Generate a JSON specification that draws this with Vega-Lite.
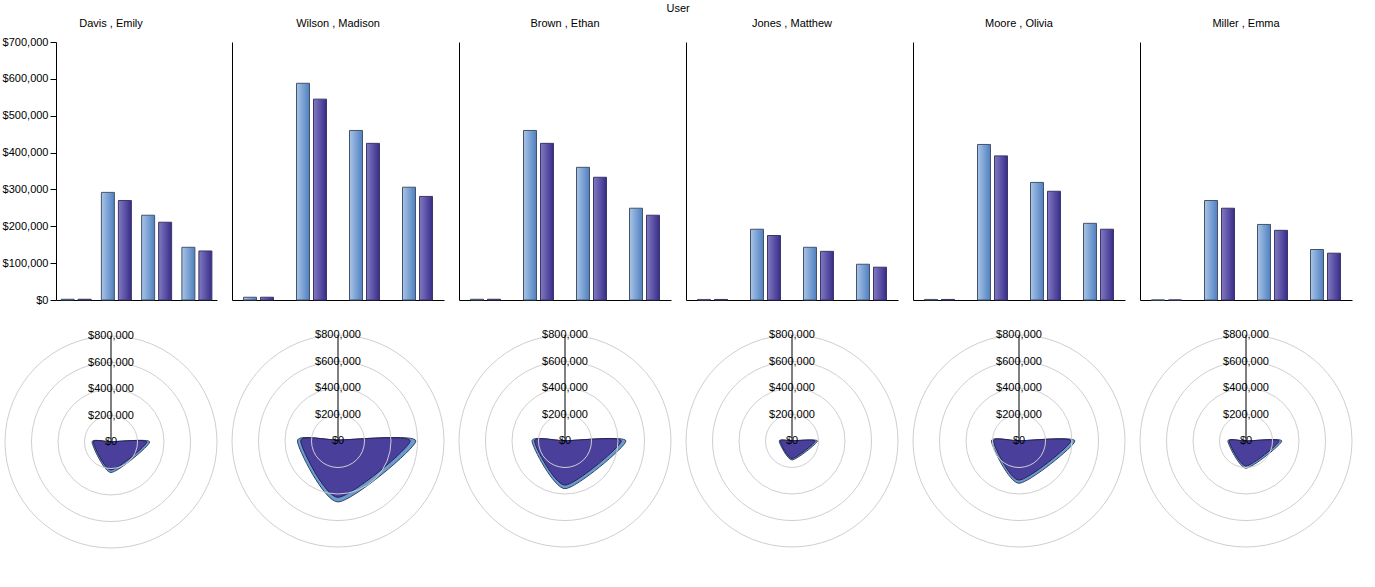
{
  "$schema": "https://vega.github.io/schema/vega-lite/v6.json",
  "background": "white",
  "padding": {"left": 2, "top": 3, "right": 0, "bottom": 0},
  "title": {"text": "User", "anchor": "middle", "offset": 4},
  "datasets": {
    "sales": [
      {"user": "Davis , Emily", "cat": "C1", "series": "S1", "value": 2000},
      {"user": "Davis , Emily", "cat": "C1", "series": "S2", "value": 2000},
      {"user": "Davis , Emily", "cat": "C2", "series": "S1", "value": 292000},
      {"user": "Davis , Emily", "cat": "C2", "series": "S2", "value": 270000},
      {"user": "Davis , Emily", "cat": "C3", "series": "S1", "value": 230000},
      {"user": "Davis , Emily", "cat": "C3", "series": "S2", "value": 211000},
      {"user": "Davis , Emily", "cat": "C4", "series": "S1", "value": 143000},
      {"user": "Davis , Emily", "cat": "C4", "series": "S2", "value": 133000},
      {"user": "Wilson , Madison", "cat": "C1", "series": "S1", "value": 7500},
      {"user": "Wilson , Madison", "cat": "C1", "series": "S2", "value": 7500},
      {"user": "Wilson , Madison", "cat": "C2", "series": "S1", "value": 588000},
      {"user": "Wilson , Madison", "cat": "C2", "series": "S2", "value": 545000},
      {"user": "Wilson , Madison", "cat": "C3", "series": "S1", "value": 460000},
      {"user": "Wilson , Madison", "cat": "C3", "series": "S2", "value": 425000},
      {"user": "Wilson , Madison", "cat": "C4", "series": "S1", "value": 306000},
      {"user": "Wilson , Madison", "cat": "C4", "series": "S2", "value": 281000},
      {"user": "Brown , Ethan", "cat": "C1", "series": "S1", "value": 2000},
      {"user": "Brown , Ethan", "cat": "C1", "series": "S2", "value": 2000},
      {"user": "Brown , Ethan", "cat": "C2", "series": "S1", "value": 460000},
      {"user": "Brown , Ethan", "cat": "C2", "series": "S2", "value": 425000},
      {"user": "Brown , Ethan", "cat": "C3", "series": "S1", "value": 360000},
      {"user": "Brown , Ethan", "cat": "C3", "series": "S2", "value": 333000},
      {"user": "Brown , Ethan", "cat": "C4", "series": "S1", "value": 249000},
      {"user": "Brown , Ethan", "cat": "C4", "series": "S2", "value": 230000},
      {"user": "Jones , Matthew", "cat": "C1", "series": "S1", "value": 1500},
      {"user": "Jones , Matthew", "cat": "C1", "series": "S2", "value": 1500},
      {"user": "Jones , Matthew", "cat": "C2", "series": "S1", "value": 192000},
      {"user": "Jones , Matthew", "cat": "C2", "series": "S2", "value": 175000},
      {"user": "Jones , Matthew", "cat": "C3", "series": "S1", "value": 143000},
      {"user": "Jones , Matthew", "cat": "C3", "series": "S2", "value": 132000},
      {"user": "Jones , Matthew", "cat": "C4", "series": "S1", "value": 97000},
      {"user": "Jones , Matthew", "cat": "C4", "series": "S2", "value": 89000},
      {"user": "Moore , Olivia", "cat": "C1", "series": "S1", "value": 1500},
      {"user": "Moore , Olivia", "cat": "C1", "series": "S2", "value": 1500},
      {"user": "Moore , Olivia", "cat": "C2", "series": "S1", "value": 422000},
      {"user": "Moore , Olivia", "cat": "C2", "series": "S2", "value": 391000},
      {"user": "Moore , Olivia", "cat": "C3", "series": "S1", "value": 319000},
      {"user": "Moore , Olivia", "cat": "C3", "series": "S2", "value": 295000},
      {"user": "Moore , Olivia", "cat": "C4", "series": "S1", "value": 208000},
      {"user": "Moore , Olivia", "cat": "C4", "series": "S2", "value": 192000},
      {"user": "Miller , Emma", "cat": "C1", "series": "S1", "value": 0},
      {"user": "Miller , Emma", "cat": "C1", "series": "S2", "value": 0},
      {"user": "Miller , Emma", "cat": "C2", "series": "S1", "value": 270000},
      {"user": "Miller , Emma", "cat": "C2", "series": "S2", "value": 249000},
      {"user": "Miller , Emma", "cat": "C3", "series": "S1", "value": 205000},
      {"user": "Miller , Emma", "cat": "C3", "series": "S2", "value": 189000},
      {"user": "Miller , Emma", "cat": "C4", "series": "S1", "value": 137000},
      {"user": "Miller , Emma", "cat": "C4", "series": "S2", "value": 127000}
    ],
    "rings": [
      {"ring": 0}, {"ring": 200000}, {"ring": 400000}, {"ring": 600000}, {"ring": 800000}
    ]
  },
  "spacing": 11,
  "hconcat": [
    {
      "spacing": 25,
      "vconcat": [
        {
          "width": 212, "height": 258,
          "title": {"text": "Davis , Emily", "offset": 7},
          "data": {"name": "sales"},
          "transform": [{"filter": "datum.user === 'Davis , Emily'"}],
          "encoding": {
            "x": {"field": "cat", "type": "nominal", "scale": {"domain": ["C1", "C2", "C3", "C4"], "range": [51, 212], "paddingInner": 0, "paddingOuter": 0}, "axis": {"title": null, "labels": false, "ticks": false}},
            "y": {"field": "value", "type": "quantitative", "scale": {"domain": [0, 700000], "nice": false}, "axis": {"title": null, "grid": false, "offset": -51, "format": "$,.0f", "values": [0, 100000, 200000, 300000, 400000, 500000, 600000, 700000], "tickSize": 6, "labelPadding": 2}}
          },
          "layer": [
            {"transform": [{"filter": "datum.series === 'S1'"}], "mark": {"type": "bar", "width": 13, "xOffset": -8.5, "stroke": "#45536a", "strokeWidth": 1, "fill": {"gradient": "linear", "x1": 0, "y1": 0, "x2": 1, "y2": 0, "stops": [{"offset": 0, "color": "#a9c4e7"}, {"offset": 1, "color": "#4f80c0"}]}}},
            {"transform": [{"filter": "datum.series === 'S2'"}], "mark": {"type": "bar", "width": 13, "xOffset": 8.5, "stroke": "#3b3768", "strokeWidth": 1, "fill": {"gradient": "linear", "x1": 0, "y1": 0, "x2": 1, "y2": 0, "stops": [{"offset": 0, "color": "#8279c2"}, {"offset": 1, "color": "#372d8a"}]}}}
          ]
        },
        {
          "width": 212, "height": 212,
          "layer": [
            {"data": {"name": "sales"}, "transform": [{"filter": "datum.user === 'Davis , Emily' && datum.series === 'S1'"}, {"calculate": "datum.cat === 'C2' ? datum.value : datum.cat === 'C4' ? -datum.value : 0", "as": "rx"}, {"calculate": "datum.cat === 'C1' ? datum.value : datum.cat === 'C3' ? -datum.value : 0", "as": "ry"}],
             "mark": {"type": "line", "interpolate": "cardinal-closed", "tension": 0.3, "fill": "#6b9bd1", "stroke": "#34465e", "strokeWidth": 1},
             "encoding": {"x": {"field": "rx", "type": "quantitative", "scale": {"domain": [-800000, 800000], "nice": false}, "axis": null}, "y": {"field": "ry", "type": "quantitative", "scale": {"domain": [-800000, 800000], "nice": false}, "axis": null}, "order": {"field": "cat", "type": "ordinal"}}},
            {"data": {"name": "sales"}, "transform": [{"filter": "datum.user === 'Davis , Emily' && datum.series === 'S2'"}, {"calculate": "datum.cat === 'C2' ? datum.value : datum.cat === 'C4' ? -datum.value : 0", "as": "rx"}, {"calculate": "datum.cat === 'C1' ? datum.value : datum.cat === 'C3' ? -datum.value : 0", "as": "ry"}],
             "mark": {"type": "line", "interpolate": "cardinal-closed", "tension": 0.3, "fill": "#4a3f9b", "stroke": "#262257", "strokeWidth": 1},
             "encoding": {"x": {"field": "rx", "type": "quantitative", "scale": {"domain": [-800000, 800000], "nice": false}, "axis": null}, "y": {"field": "ry", "type": "quantitative", "scale": {"domain": [-800000, 800000], "nice": false}, "axis": null}, "order": {"field": "cat", "type": "ordinal"}}},
            {"data": {"name": "rings"}, "transform": [{"filter": "datum.ring > 0"}], "mark": {"type": "point", "shape": "circle", "filled": false, "stroke": "#cfcfcf", "strokeWidth": 1, "opacity": 1},
             "encoding": {"x": {"datum": 0, "type": "quantitative", "scale": {"domain": [-800000, 800000], "nice": false}, "axis": null}, "y": {"datum": 0, "type": "quantitative", "scale": {"domain": [-800000, 800000], "nice": false}, "axis": null}, "size": {"field": "ring", "type": "quantitative", "scale": {"type": "pow", "exponent": 2, "domain": [0, 800000], "range": [0, 44944]}, "legend": null}}},
            {"data": {"name": "rings"}, "mark": {"type": "text", "fontSize": 11, "align": "center", "baseline": "middle", "color": "black"},
             "encoding": {"x": {"datum": 0, "type": "quantitative", "scale": {"domain": [-800000, 800000], "nice": false}, "axis": null}, "y": {"field": "ring", "type": "quantitative", "scale": {"domain": [-800000, 800000], "nice": false}, "axis": null}, "text": {"field": "ring", "type": "quantitative", "format": "$,.0f"}}},
            {"data": {"name": "rings"}, "transform": [{"filter": "datum.ring === 800000"}], "mark": {"type": "rule", "color": "black", "strokeWidth": 1},
             "encoding": {"x": {"datum": 0, "type": "quantitative", "scale": {"domain": [-800000, 800000], "nice": false}, "axis": null}, "y": {"field": "ring", "type": "quantitative", "scale": {"domain": [-800000, 800000], "nice": false}, "axis": null}, "y2": {"datum": 0}}}
          ]
        }
      ]
    },
    {
      "spacing": 28,
      "vconcat": [
        {
          "width": 212, "height": 258,
          "title": "Wilson , Madison",
          "data": {"name": "sales"},
          "transform": [{"filter": "datum.user === 'Wilson , Madison'"}],
          "encoding": {
            "x": {"field": "cat", "type": "nominal", "scale": {"domain": ["C1", "C2", "C3", "C4"], "paddingInner": 0, "paddingOuter": 0}, "axis": {"title": null, "labels": false, "ticks": false}},
            "y": {"field": "value", "type": "quantitative", "scale": {"domain": [0, 700000], "nice": false}, "axis": {"title": null, "grid": false, "labels": false, "ticks": false}}
          },
          "layer": [
            {"transform": [{"filter": "datum.series === 'S1'"}], "mark": {"type": "bar", "width": 13, "xOffset": -8.5, "stroke": "#45536a", "strokeWidth": 1, "fill": {"gradient": "linear", "x1": 0, "y1": 0, "x2": 1, "y2": 0, "stops": [{"offset": 0, "color": "#a9c4e7"}, {"offset": 1, "color": "#4f80c0"}]}}},
            {"transform": [{"filter": "datum.series === 'S2'"}], "mark": {"type": "bar", "width": 13, "xOffset": 8.5, "stroke": "#3b3768", "strokeWidth": 1, "fill": {"gradient": "linear", "x1": 0, "y1": 0, "x2": 1, "y2": 0, "stops": [{"offset": 0, "color": "#8279c2"}, {"offset": 1, "color": "#372d8a"}]}}}
          ]
        },
        {
          "width": 212, "height": 212,
          "layer": [
            {"data": {"name": "sales"}, "transform": [{"filter": "datum.user === 'Wilson , Madison' && datum.series === 'S1'"}, {"calculate": "datum.cat === 'C2' ? datum.value : datum.cat === 'C4' ? -datum.value : 0", "as": "rx"}, {"calculate": "datum.cat === 'C1' ? datum.value : datum.cat === 'C3' ? -datum.value : 0", "as": "ry"}],
             "mark": {"type": "line", "interpolate": "cardinal-closed", "tension": 0.3, "fill": "#6b9bd1", "stroke": "#34465e", "strokeWidth": 1},
             "encoding": {"x": {"field": "rx", "type": "quantitative", "scale": {"domain": [-800000, 800000], "nice": false}, "axis": null}, "y": {"field": "ry", "type": "quantitative", "scale": {"domain": [-800000, 800000], "nice": false}, "axis": null}, "order": {"field": "cat", "type": "ordinal"}}},
            {"data": {"name": "sales"}, "transform": [{"filter": "datum.user === 'Wilson , Madison' && datum.series === 'S2'"}, {"calculate": "datum.cat === 'C2' ? datum.value : datum.cat === 'C4' ? -datum.value : 0", "as": "rx"}, {"calculate": "datum.cat === 'C1' ? datum.value : datum.cat === 'C3' ? -datum.value : 0", "as": "ry"}],
             "mark": {"type": "line", "interpolate": "cardinal-closed", "tension": 0.3, "fill": "#4a3f9b", "stroke": "#262257", "strokeWidth": 1},
             "encoding": {"x": {"field": "rx", "type": "quantitative", "scale": {"domain": [-800000, 800000], "nice": false}, "axis": null}, "y": {"field": "ry", "type": "quantitative", "scale": {"domain": [-800000, 800000], "nice": false}, "axis": null}, "order": {"field": "cat", "type": "ordinal"}}},
            {"data": {"name": "rings"}, "transform": [{"filter": "datum.ring > 0"}], "mark": {"type": "point", "shape": "circle", "filled": false, "stroke": "#cfcfcf", "strokeWidth": 1, "opacity": 1},
             "encoding": {"x": {"datum": 0, "type": "quantitative", "scale": {"domain": [-800000, 800000], "nice": false}, "axis": null}, "y": {"datum": 0, "type": "quantitative", "scale": {"domain": [-800000, 800000], "nice": false}, "axis": null}, "size": {"field": "ring", "type": "quantitative", "scale": {"type": "pow", "exponent": 2, "domain": [0, 800000], "range": [0, 44944]}, "legend": null}}},
            {"data": {"name": "rings"}, "mark": {"type": "text", "fontSize": 11, "align": "center", "baseline": "middle", "color": "black"},
             "encoding": {"x": {"datum": 0, "type": "quantitative", "scale": {"domain": [-800000, 800000], "nice": false}, "axis": null}, "y": {"field": "ring", "type": "quantitative", "scale": {"domain": [-800000, 800000], "nice": false}, "axis": null}, "text": {"field": "ring", "type": "quantitative", "format": "$,.0f"}}},
            {"data": {"name": "rings"}, "transform": [{"filter": "datum.ring === 800000"}], "mark": {"type": "rule", "color": "black", "strokeWidth": 1},
             "encoding": {"x": {"datum": 0, "type": "quantitative", "scale": {"domain": [-800000, 800000], "nice": false}, "axis": null}, "y": {"field": "ring", "type": "quantitative", "scale": {"domain": [-800000, 800000], "nice": false}, "axis": null}, "y2": {"datum": 0}}}
          ]
        }
      ]
    },
    {
      "spacing": 28,
      "vconcat": [
        {
          "width": 212, "height": 258,
          "title": "Brown , Ethan",
          "data": {"name": "sales"},
          "transform": [{"filter": "datum.user === 'Brown , Ethan'"}],
          "encoding": {
            "x": {"field": "cat", "type": "nominal", "scale": {"domain": ["C1", "C2", "C3", "C4"], "paddingInner": 0, "paddingOuter": 0}, "axis": {"title": null, "labels": false, "ticks": false}},
            "y": {"field": "value", "type": "quantitative", "scale": {"domain": [0, 700000], "nice": false}, "axis": {"title": null, "grid": false, "labels": false, "ticks": false}}
          },
          "layer": [
            {"transform": [{"filter": "datum.series === 'S1'"}], "mark": {"type": "bar", "width": 13, "xOffset": -8.5, "stroke": "#45536a", "strokeWidth": 1, "fill": {"gradient": "linear", "x1": 0, "y1": 0, "x2": 1, "y2": 0, "stops": [{"offset": 0, "color": "#a9c4e7"}, {"offset": 1, "color": "#4f80c0"}]}}},
            {"transform": [{"filter": "datum.series === 'S2'"}], "mark": {"type": "bar", "width": 13, "xOffset": 8.5, "stroke": "#3b3768", "strokeWidth": 1, "fill": {"gradient": "linear", "x1": 0, "y1": 0, "x2": 1, "y2": 0, "stops": [{"offset": 0, "color": "#8279c2"}, {"offset": 1, "color": "#372d8a"}]}}}
          ]
        },
        {
          "width": 212, "height": 212,
          "layer": [
            {"data": {"name": "sales"}, "transform": [{"filter": "datum.user === 'Brown , Ethan' && datum.series === 'S1'"}, {"calculate": "datum.cat === 'C2' ? datum.value : datum.cat === 'C4' ? -datum.value : 0", "as": "rx"}, {"calculate": "datum.cat === 'C1' ? datum.value : datum.cat === 'C3' ? -datum.value : 0", "as": "ry"}],
             "mark": {"type": "line", "interpolate": "cardinal-closed", "tension": 0.3, "fill": "#6b9bd1", "stroke": "#34465e", "strokeWidth": 1},
             "encoding": {"x": {"field": "rx", "type": "quantitative", "scale": {"domain": [-800000, 800000], "nice": false}, "axis": null}, "y": {"field": "ry", "type": "quantitative", "scale": {"domain": [-800000, 800000], "nice": false}, "axis": null}, "order": {"field": "cat", "type": "ordinal"}}},
            {"data": {"name": "sales"}, "transform": [{"filter": "datum.user === 'Brown , Ethan' && datum.series === 'S2'"}, {"calculate": "datum.cat === 'C2' ? datum.value : datum.cat === 'C4' ? -datum.value : 0", "as": "rx"}, {"calculate": "datum.cat === 'C1' ? datum.value : datum.cat === 'C3' ? -datum.value : 0", "as": "ry"}],
             "mark": {"type": "line", "interpolate": "cardinal-closed", "tension": 0.3, "fill": "#4a3f9b", "stroke": "#262257", "strokeWidth": 1},
             "encoding": {"x": {"field": "rx", "type": "quantitative", "scale": {"domain": [-800000, 800000], "nice": false}, "axis": null}, "y": {"field": "ry", "type": "quantitative", "scale": {"domain": [-800000, 800000], "nice": false}, "axis": null}, "order": {"field": "cat", "type": "ordinal"}}},
            {"data": {"name": "rings"}, "transform": [{"filter": "datum.ring > 0"}], "mark": {"type": "point", "shape": "circle", "filled": false, "stroke": "#cfcfcf", "strokeWidth": 1, "opacity": 1},
             "encoding": {"x": {"datum": 0, "type": "quantitative", "scale": {"domain": [-800000, 800000], "nice": false}, "axis": null}, "y": {"datum": 0, "type": "quantitative", "scale": {"domain": [-800000, 800000], "nice": false}, "axis": null}, "size": {"field": "ring", "type": "quantitative", "scale": {"type": "pow", "exponent": 2, "domain": [0, 800000], "range": [0, 44944]}, "legend": null}}},
            {"data": {"name": "rings"}, "mark": {"type": "text", "fontSize": 11, "align": "center", "baseline": "middle", "color": "black"},
             "encoding": {"x": {"datum": 0, "type": "quantitative", "scale": {"domain": [-800000, 800000], "nice": false}, "axis": null}, "y": {"field": "ring", "type": "quantitative", "scale": {"domain": [-800000, 800000], "nice": false}, "axis": null}, "text": {"field": "ring", "type": "quantitative", "format": "$,.0f"}}},
            {"data": {"name": "rings"}, "transform": [{"filter": "datum.ring === 800000"}], "mark": {"type": "rule", "color": "black", "strokeWidth": 1},
             "encoding": {"x": {"datum": 0, "type": "quantitative", "scale": {"domain": [-800000, 800000], "nice": false}, "axis": null}, "y": {"field": "ring", "type": "quantitative", "scale": {"domain": [-800000, 800000], "nice": false}, "axis": null}, "y2": {"datum": 0}}}
          ]
        }
      ]
    },
    {
      "spacing": 28,
      "vconcat": [
        {
          "width": 212, "height": 258,
          "title": "Jones , Matthew",
          "data": {"name": "sales"},
          "transform": [{"filter": "datum.user === 'Jones , Matthew'"}],
          "encoding": {
            "x": {"field": "cat", "type": "nominal", "scale": {"domain": ["C1", "C2", "C3", "C4"], "paddingInner": 0, "paddingOuter": 0}, "axis": {"title": null, "labels": false, "ticks": false}},
            "y": {"field": "value", "type": "quantitative", "scale": {"domain": [0, 700000], "nice": false}, "axis": {"title": null, "grid": false, "labels": false, "ticks": false}}
          },
          "layer": [
            {"transform": [{"filter": "datum.series === 'S1'"}], "mark": {"type": "bar", "width": 13, "xOffset": -8.5, "stroke": "#45536a", "strokeWidth": 1, "fill": {"gradient": "linear", "x1": 0, "y1": 0, "x2": 1, "y2": 0, "stops": [{"offset": 0, "color": "#a9c4e7"}, {"offset": 1, "color": "#4f80c0"}]}}},
            {"transform": [{"filter": "datum.series === 'S2'"}], "mark": {"type": "bar", "width": 13, "xOffset": 8.5, "stroke": "#3b3768", "strokeWidth": 1, "fill": {"gradient": "linear", "x1": 0, "y1": 0, "x2": 1, "y2": 0, "stops": [{"offset": 0, "color": "#8279c2"}, {"offset": 1, "color": "#372d8a"}]}}}
          ]
        },
        {
          "width": 212, "height": 212,
          "layer": [
            {"data": {"name": "sales"}, "transform": [{"filter": "datum.user === 'Jones , Matthew' && datum.series === 'S1'"}, {"calculate": "datum.cat === 'C2' ? datum.value : datum.cat === 'C4' ? -datum.value : 0", "as": "rx"}, {"calculate": "datum.cat === 'C1' ? datum.value : datum.cat === 'C3' ? -datum.value : 0", "as": "ry"}],
             "mark": {"type": "line", "interpolate": "cardinal-closed", "tension": 0.3, "fill": "#6b9bd1", "stroke": "#34465e", "strokeWidth": 1},
             "encoding": {"x": {"field": "rx", "type": "quantitative", "scale": {"domain": [-800000, 800000], "nice": false}, "axis": null}, "y": {"field": "ry", "type": "quantitative", "scale": {"domain": [-800000, 800000], "nice": false}, "axis": null}, "order": {"field": "cat", "type": "ordinal"}}},
            {"data": {"name": "sales"}, "transform": [{"filter": "datum.user === 'Jones , Matthew' && datum.series === 'S2'"}, {"calculate": "datum.cat === 'C2' ? datum.value : datum.cat === 'C4' ? -datum.value : 0", "as": "rx"}, {"calculate": "datum.cat === 'C1' ? datum.value : datum.cat === 'C3' ? -datum.value : 0", "as": "ry"}],
             "mark": {"type": "line", "interpolate": "cardinal-closed", "tension": 0.3, "fill": "#4a3f9b", "stroke": "#262257", "strokeWidth": 1},
             "encoding": {"x": {"field": "rx", "type": "quantitative", "scale": {"domain": [-800000, 800000], "nice": false}, "axis": null}, "y": {"field": "ry", "type": "quantitative", "scale": {"domain": [-800000, 800000], "nice": false}, "axis": null}, "order": {"field": "cat", "type": "ordinal"}}},
            {"data": {"name": "rings"}, "transform": [{"filter": "datum.ring > 0"}], "mark": {"type": "point", "shape": "circle", "filled": false, "stroke": "#cfcfcf", "strokeWidth": 1, "opacity": 1},
             "encoding": {"x": {"datum": 0, "type": "quantitative", "scale": {"domain": [-800000, 800000], "nice": false}, "axis": null}, "y": {"datum": 0, "type": "quantitative", "scale": {"domain": [-800000, 800000], "nice": false}, "axis": null}, "size": {"field": "ring", "type": "quantitative", "scale": {"type": "pow", "exponent": 2, "domain": [0, 800000], "range": [0, 44944]}, "legend": null}}},
            {"data": {"name": "rings"}, "mark": {"type": "text", "fontSize": 11, "align": "center", "baseline": "middle", "color": "black"},
             "encoding": {"x": {"datum": 0, "type": "quantitative", "scale": {"domain": [-800000, 800000], "nice": false}, "axis": null}, "y": {"field": "ring", "type": "quantitative", "scale": {"domain": [-800000, 800000], "nice": false}, "axis": null}, "text": {"field": "ring", "type": "quantitative", "format": "$,.0f"}}},
            {"data": {"name": "rings"}, "transform": [{"filter": "datum.ring === 800000"}], "mark": {"type": "rule", "color": "black", "strokeWidth": 1},
             "encoding": {"x": {"datum": 0, "type": "quantitative", "scale": {"domain": [-800000, 800000], "nice": false}, "axis": null}, "y": {"field": "ring", "type": "quantitative", "scale": {"domain": [-800000, 800000], "nice": false}, "axis": null}, "y2": {"datum": 0}}}
          ]
        }
      ]
    },
    {
      "spacing": 28,
      "vconcat": [
        {
          "width": 212, "height": 258,
          "title": "Moore , Olivia",
          "data": {"name": "sales"},
          "transform": [{"filter": "datum.user === 'Moore , Olivia'"}],
          "encoding": {
            "x": {"field": "cat", "type": "nominal", "scale": {"domain": ["C1", "C2", "C3", "C4"], "paddingInner": 0, "paddingOuter": 0}, "axis": {"title": null, "labels": false, "ticks": false}},
            "y": {"field": "value", "type": "quantitative", "scale": {"domain": [0, 700000], "nice": false}, "axis": {"title": null, "grid": false, "labels": false, "ticks": false}}
          },
          "layer": [
            {"transform": [{"filter": "datum.series === 'S1'"}], "mark": {"type": "bar", "width": 13, "xOffset": -8.5, "stroke": "#45536a", "strokeWidth": 1, "fill": {"gradient": "linear", "x1": 0, "y1": 0, "x2": 1, "y2": 0, "stops": [{"offset": 0, "color": "#a9c4e7"}, {"offset": 1, "color": "#4f80c0"}]}}},
            {"transform": [{"filter": "datum.series === 'S2'"}], "mark": {"type": "bar", "width": 13, "xOffset": 8.5, "stroke": "#3b3768", "strokeWidth": 1, "fill": {"gradient": "linear", "x1": 0, "y1": 0, "x2": 1, "y2": 0, "stops": [{"offset": 0, "color": "#8279c2"}, {"offset": 1, "color": "#372d8a"}]}}}
          ]
        },
        {
          "width": 212, "height": 212,
          "layer": [
            {"data": {"name": "sales"}, "transform": [{"filter": "datum.user === 'Moore , Olivia' && datum.series === 'S1'"}, {"calculate": "datum.cat === 'C2' ? datum.value : datum.cat === 'C4' ? -datum.value : 0", "as": "rx"}, {"calculate": "datum.cat === 'C1' ? datum.value : datum.cat === 'C3' ? -datum.value : 0", "as": "ry"}],
             "mark": {"type": "line", "interpolate": "cardinal-closed", "tension": 0.3, "fill": "#6b9bd1", "stroke": "#34465e", "strokeWidth": 1},
             "encoding": {"x": {"field": "rx", "type": "quantitative", "scale": {"domain": [-800000, 800000], "nice": false}, "axis": null}, "y": {"field": "ry", "type": "quantitative", "scale": {"domain": [-800000, 800000], "nice": false}, "axis": null}, "order": {"field": "cat", "type": "ordinal"}}},
            {"data": {"name": "sales"}, "transform": [{"filter": "datum.user === 'Moore , Olivia' && datum.series === 'S2'"}, {"calculate": "datum.cat === 'C2' ? datum.value : datum.cat === 'C4' ? -datum.value : 0", "as": "rx"}, {"calculate": "datum.cat === 'C1' ? datum.value : datum.cat === 'C3' ? -datum.value : 0", "as": "ry"}],
             "mark": {"type": "line", "interpolate": "cardinal-closed", "tension": 0.3, "fill": "#4a3f9b", "stroke": "#262257", "strokeWidth": 1},
             "encoding": {"x": {"field": "rx", "type": "quantitative", "scale": {"domain": [-800000, 800000], "nice": false}, "axis": null}, "y": {"field": "ry", "type": "quantitative", "scale": {"domain": [-800000, 800000], "nice": false}, "axis": null}, "order": {"field": "cat", "type": "ordinal"}}},
            {"data": {"name": "rings"}, "transform": [{"filter": "datum.ring > 0"}], "mark": {"type": "point", "shape": "circle", "filled": false, "stroke": "#cfcfcf", "strokeWidth": 1, "opacity": 1},
             "encoding": {"x": {"datum": 0, "type": "quantitative", "scale": {"domain": [-800000, 800000], "nice": false}, "axis": null}, "y": {"datum": 0, "type": "quantitative", "scale": {"domain": [-800000, 800000], "nice": false}, "axis": null}, "size": {"field": "ring", "type": "quantitative", "scale": {"type": "pow", "exponent": 2, "domain": [0, 800000], "range": [0, 44944]}, "legend": null}}},
            {"data": {"name": "rings"}, "mark": {"type": "text", "fontSize": 11, "align": "center", "baseline": "middle", "color": "black"},
             "encoding": {"x": {"datum": 0, "type": "quantitative", "scale": {"domain": [-800000, 800000], "nice": false}, "axis": null}, "y": {"field": "ring", "type": "quantitative", "scale": {"domain": [-800000, 800000], "nice": false}, "axis": null}, "text": {"field": "ring", "type": "quantitative", "format": "$,.0f"}}},
            {"data": {"name": "rings"}, "transform": [{"filter": "datum.ring === 800000"}], "mark": {"type": "rule", "color": "black", "strokeWidth": 1},
             "encoding": {"x": {"datum": 0, "type": "quantitative", "scale": {"domain": [-800000, 800000], "nice": false}, "axis": null}, "y": {"field": "ring", "type": "quantitative", "scale": {"domain": [-800000, 800000], "nice": false}, "axis": null}, "y2": {"datum": 0}}}
          ]
        }
      ]
    },
    {
      "spacing": 28,
      "vconcat": [
        {
          "width": 212, "height": 258,
          "title": "Miller , Emma",
          "data": {"name": "sales"},
          "transform": [{"filter": "datum.user === 'Miller , Emma'"}],
          "encoding": {
            "x": {"field": "cat", "type": "nominal", "scale": {"domain": ["C1", "C2", "C3", "C4"], "paddingInner": 0, "paddingOuter": 0}, "axis": {"title": null, "labels": false, "ticks": false}},
            "y": {"field": "value", "type": "quantitative", "scale": {"domain": [0, 700000], "nice": false}, "axis": {"title": null, "grid": false, "labels": false, "ticks": false}}
          },
          "layer": [
            {"transform": [{"filter": "datum.series === 'S1'"}], "mark": {"type": "bar", "width": 13, "xOffset": -8.5, "stroke": "#45536a", "strokeWidth": 1, "fill": {"gradient": "linear", "x1": 0, "y1": 0, "x2": 1, "y2": 0, "stops": [{"offset": 0, "color": "#a9c4e7"}, {"offset": 1, "color": "#4f80c0"}]}}},
            {"transform": [{"filter": "datum.series === 'S2'"}], "mark": {"type": "bar", "width": 13, "xOffset": 8.5, "stroke": "#3b3768", "strokeWidth": 1, "fill": {"gradient": "linear", "x1": 0, "y1": 0, "x2": 1, "y2": 0, "stops": [{"offset": 0, "color": "#8279c2"}, {"offset": 1, "color": "#372d8a"}]}}}
          ]
        },
        {
          "width": 212, "height": 212,
          "layer": [
            {"data": {"name": "sales"}, "transform": [{"filter": "datum.user === 'Miller , Emma' && datum.series === 'S1'"}, {"calculate": "datum.cat === 'C2' ? datum.value : datum.cat === 'C4' ? -datum.value : 0", "as": "rx"}, {"calculate": "datum.cat === 'C1' ? datum.value : datum.cat === 'C3' ? -datum.value : 0", "as": "ry"}],
             "mark": {"type": "line", "interpolate": "cardinal-closed", "tension": 0.3, "fill": "#6b9bd1", "stroke": "#34465e", "strokeWidth": 1},
             "encoding": {"x": {"field": "rx", "type": "quantitative", "scale": {"domain": [-800000, 800000], "nice": false}, "axis": null}, "y": {"field": "ry", "type": "quantitative", "scale": {"domain": [-800000, 800000], "nice": false}, "axis": null}, "order": {"field": "cat", "type": "ordinal"}}},
            {"data": {"name": "sales"}, "transform": [{"filter": "datum.user === 'Miller , Emma' && datum.series === 'S2'"}, {"calculate": "datum.cat === 'C2' ? datum.value : datum.cat === 'C4' ? -datum.value : 0", "as": "rx"}, {"calculate": "datum.cat === 'C1' ? datum.value : datum.cat === 'C3' ? -datum.value : 0", "as": "ry"}],
             "mark": {"type": "line", "interpolate": "cardinal-closed", "tension": 0.3, "fill": "#4a3f9b", "stroke": "#262257", "strokeWidth": 1},
             "encoding": {"x": {"field": "rx", "type": "quantitative", "scale": {"domain": [-800000, 800000], "nice": false}, "axis": null}, "y": {"field": "ry", "type": "quantitative", "scale": {"domain": [-800000, 800000], "nice": false}, "axis": null}, "order": {"field": "cat", "type": "ordinal"}}},
            {"data": {"name": "rings"}, "transform": [{"filter": "datum.ring > 0"}], "mark": {"type": "point", "shape": "circle", "filled": false, "stroke": "#cfcfcf", "strokeWidth": 1, "opacity": 1},
             "encoding": {"x": {"datum": 0, "type": "quantitative", "scale": {"domain": [-800000, 800000], "nice": false}, "axis": null}, "y": {"datum": 0, "type": "quantitative", "scale": {"domain": [-800000, 800000], "nice": false}, "axis": null}, "size": {"field": "ring", "type": "quantitative", "scale": {"type": "pow", "exponent": 2, "domain": [0, 800000], "range": [0, 44944]}, "legend": null}}},
            {"data": {"name": "rings"}, "mark": {"type": "text", "fontSize": 11, "align": "center", "baseline": "middle", "color": "black"},
             "encoding": {"x": {"datum": 0, "type": "quantitative", "scale": {"domain": [-800000, 800000], "nice": false}, "axis": null}, "y": {"field": "ring", "type": "quantitative", "scale": {"domain": [-800000, 800000], "nice": false}, "axis": null}, "text": {"field": "ring", "type": "quantitative", "format": "$,.0f"}}},
            {"data": {"name": "rings"}, "transform": [{"filter": "datum.ring === 800000"}], "mark": {"type": "rule", "color": "black", "strokeWidth": 1},
             "encoding": {"x": {"datum": 0, "type": "quantitative", "scale": {"domain": [-800000, 800000], "nice": false}, "axis": null}, "y": {"field": "ring", "type": "quantitative", "scale": {"domain": [-800000, 800000], "nice": false}, "axis": null}, "y2": {"datum": 0}}}
          ]
        }
      ]
    }
  ],
  "config": {
    "font": "Liberation Sans",
    "view": {"stroke": null},
    "title": {"font": "Liberation Sans", "fontSize": 11, "fontWeight": "normal", "color": "black", "offset": 13},
    "axis": {"domainColor": "black", "tickColor": "black", "labelColor": "black", "labelFont": "Liberation Sans", "labelFontSize": 11, "domainWidth": 1}
  }
}
